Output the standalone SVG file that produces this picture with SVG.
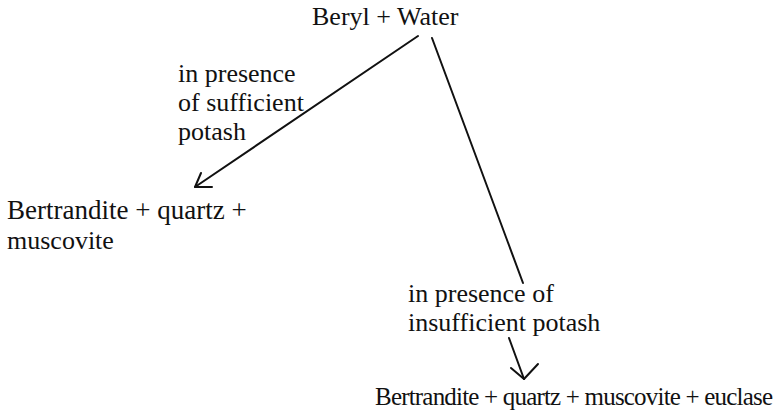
<svg xmlns="http://www.w3.org/2000/svg" width="774" height="414" viewBox="0 0 774 414">
<style>
text{font-family:"Liberation Serif","DejaVu Serif","Times New Roman",serif;font-size:26px;fill:#111}
.ln{stroke:#111;stroke-width:2;fill:none;stroke-linecap:round;stroke-linejoin:round}
</style>
<rect width="774" height="414" fill="#fff"/>
<g id="beryl"><text x="312" y="25">Beryl + Water</text></g>
<g id="label-sufficient">
<text x="178" y="82">in presence</text>
<text x="178" y="111">of sufficient</text>
<text x="178" y="140">potash</text>
</g>
<g id="product-left">
<text x="7" y="219" style="font-size:27px">Bertrandite + quartz +</text>
<text x="7" y="249">muscovite</text>
</g>
<g id="label-insufficient">
<text x="408" y="302">in presence of</text>
<text x="408" y="331">insufficient potash</text>
</g>
<g id="product-bottom"><text x="375" y="405" style="font-size:25px" textLength="398" lengthAdjust="spacing">Bertrandite + quartz + muscovite + euclase</text></g>
<g id="connectors">
<line class="ln" x1="418" y1="36" x2="195" y2="187"/>
<polyline class="ln" points="201,173 195,187 212,187"/>
<line class="ln" x1="432" y1="38" x2="523" y2="283"/>
<line class="ln" x1="509" y1="338" x2="524" y2="379"/>
<polyline class="ln" points="511,368 524,379 538,364"/>
</g>
</svg>
